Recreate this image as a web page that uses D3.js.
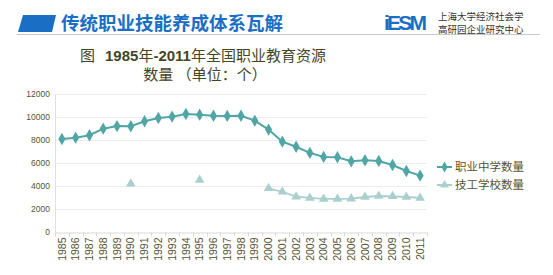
<!DOCTYPE html>
<html><head><meta charset="utf-8">
<script src="https://cdn.jsdelivr.net/npm/d3@7"></script>
<style>
body{margin:0;background:#fff;}
svg{display:block;font-family:"Noto Sans CJK SC","Noto Sans",sans-serif;}
</style></head><body>
<svg id="c" width="553" height="275"></svg>
<script>
const years = ["1985","1986","1987","1988","1989","1990","1991","1992","1993","1994","1995","1996","1997","1998","1999","2000","2001","2002","2003","2004","2005","2006","2007","2008","2009","2010","2011"];
const vocational = [8070,8190,8400,8970,9200,9180,9620,9900,10020,10250,10190,10100,10080,10100,9670,8890,7840,7400,6860,6510,6480,6130,6220,6160,5810,5290,4880];
const technical = [null,null,null,null,null,4180,null,null,null,null,4500,null,null,null,null,3780,3480,3050,2940,2850,2850,2880,3020,3110,3080,3020,2940];
const yTicks = [0,2000,4000,6000,8000,10000,12000];
const seriesNames = ["职业中学数量","技工学校数量"];
const colors = ["#4fa6a4","#a9cfce"];

const svg = d3.select("#c");
const textCol = "#55552f";

// header
svg.append("path").attr("d","M23,15 L56,15 L52,32 L18,32 Z").attr("fill","#1a6fc4");
svg.append("text").attr("x",61).attr("y",30).attr("font-size",18.5).attr("font-weight","bold")
  .attr("fill","#1a6fc4").text("传统职业技能养成体系瓦解");
svg.append("line").attr("x1",17).attr("x2",540).attr("y1",34.5).attr("y2",34.5)
  .attr("stroke","#c8c8c8").attr("stroke-width",1);
svg.append("text").attr("x",384).attr("y",30).attr("font-size",21).attr("font-weight","bold")
  .attr("font-family","Liberation Sans, Arial").attr("fill","#1a6fc4").attr("textLength",43).text("iESM");
svg.append("text").attr("x",438).attr("y",20).attr("font-size",9.5).attr("fill","#333").text("上海大学经济社会学");
svg.append("text").attr("x",438).attr("y",33).attr("font-size",9.5).attr("fill","#333").text("高研园企业研究中心");

// chart title (pieces placed one after another)
const parts = [
  {t:"图", bold:false, gap:10},
  {t:"1985", bold:true, gap:0},
  {t:"年", bold:false, gap:0},
  {t:"-2011", bold:true, gap:0},
  {t:"年全国职业教育资源", bold:false, gap:0}
];
let tx = 80;
parts.forEach(p=>{
  const el = svg.append("text").attr("x",tx).attr("y",61).attr("font-size",15).attr("fill","#45451f").text(p.t);
  if(p.bold) el.attr("font-weight","bold").attr("font-family","Liberation Sans, Arial");
  tx += el.node().getComputedTextLength() + p.gap;
});
svg.append("text").attr("x",205).attr("y",80).attr("text-anchor","middle").attr("font-size",15).attr("fill","#45451f").text("数量 （单位：个）");

// scales
const x = d3.scaleBand().domain(years).range([55,427]);
const y = d3.scaleLinear().domain([0,12000]).range([231.7,93.9]);

// grid
svg.append("g").selectAll("line").data(yTicks.slice(1)).join("line")
  .attr("x1",55).attr("x2",427).attr("y1",d=>Math.round(y(d))+0.5).attr("y2",d=>Math.round(y(d))+0.5)
  .attr("stroke","#ececec");

// y axis
const ya = svg.append("g").attr("transform","translate(55,0)")
  .call(d3.axisLeft(y).tickValues(yTicks).tickSize(0).tickPadding(5).tickFormat(d3.format("d")));
ya.select(".domain").attr("stroke","#e0e0e0");
ya.selectAll("text").attr("font-size",8.5).attr("fill",textCol).attr("font-family","Liberation Sans, Arial");

// x axis
const xa = svg.append("g").attr("transform",`translate(0,${Math.round(y(0))+0.5})`)
  .call(d3.axisBottom(x).tickSize(0).tickPadding(4));
xa.select(".domain").attr("stroke","#d9d9d9");
xa.selectAll(".tick line").remove();
xa.append("g").selectAll("line").data(years.concat(["end"])).join("line")
  .attr("x1",(d,i)=>Math.round(55+i*x.step())+0.5).attr("x2",(d,i)=>Math.round(55+i*x.step())+0.5)
  .attr("y1",0).attr("y2",4).attr("stroke","#d9d9d9");
xa.selectAll(".tick text").attr("font-size",10.5).attr("fill",textCol).attr("font-family","Liberation Sans, Arial")
  .attr("transform","rotate(-90)").attr("text-anchor","end").attr("x",-5).attr("y",0).attr("dy","0.35em");

// lines
const cx = d => x(d) + x.bandwidth()/2;
function drawSeries(vals, color, width, symbol, size){
  const data = years.map((yr,i)=>({yr, v: vals[i]}));
  const line = d3.line().defined(d=>d.v!=null).x(d=>cx(d.yr)).y(d=>y(d.v));
  svg.append("path").datum(data).attr("d",line).attr("fill","none").attr("stroke",color).attr("stroke-width",width);
  svg.append("g").selectAll("path").data(data.filter(d=>d.v!=null)).join("path")
    .attr("d",d3.symbol().type(symbol).size(size))
    .attr("transform",d=>`translate(${cx(d.yr)},${y(d.v)})`).attr("fill",color);
}
drawSeries(vocational, colors[0], 2, d3.symbolDiamond, 44);
drawSeries(technical, colors[1], 1.8, d3.symbolTriangle, 40);

// legend
const leg = svg.append("g");
[167,185].forEach((ly,i)=>{
  leg.append("line").attr("x1",437).attr("x2",452).attr("y1",ly).attr("y2",ly).attr("stroke",colors[i]).attr("stroke-width",2);
  leg.append("path").attr("d",d3.symbol().type(i==0?d3.symbolDiamond:d3.symbolTriangle).size(34)())
    .attr("transform",`translate(444.5,${ly})`).attr("fill",colors[i]);
  leg.append("text").attr("x",455).attr("y",ly+4).attr("font-size",11.5).attr("fill",textCol).text(seriesNames[i]);
});
</script>
</body></html>
